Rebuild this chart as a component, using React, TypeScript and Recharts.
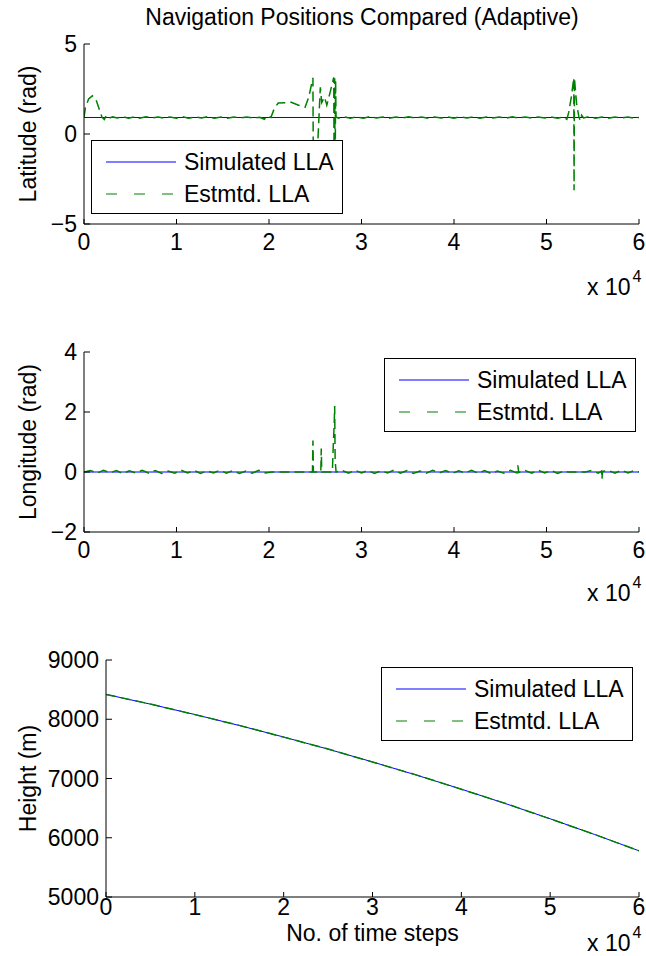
import React from 'react'
import { LineChart, Line, XAxis, YAxis } from 'recharts'

const FONT = '"Liberation Sans", Arial, Helvetica, sans-serif'
const BLUE = '#0000ff'
const GREEN = '#008000'

const xTicks = [0, 10000, 20000, 30000, 40000, 50000, 60000]
const latTicks = [-5, 0, 5]
const lonTicks = [-2, 0, 2, 4]
const heightTicks = [5000, 6000, 7000, 8000, 9000]

// [time step, value]
const latSim: [number, number][] = [[0, 0.917], [60000, 0.917]]
const latEst: [number, number][] = [
  [0, 0.92], [150, 1.45], [500, 1.95], [900, 2.12], [1300, 1.9], [1700, 1.3], [1950, 0.92],
  [2200, 0.8], [2400, 1.02], [2700, 0.88], [3100, 0.95], [3600, 0.89], [4200, 0.96], [4800, 0.88],
  [5400, 0.95], [6000, 0.88], [6700, 0.96], [7300, 0.89], [8000, 0.94], [8600, 0.88], [9300, 0.95],
  [10000, 0.88], [10600, 0.97], [11300, 0.88], [12000, 0.95], [12700, 0.89], [13400, 0.96],
  [14100, 0.88], [14800, 0.94], [15500, 0.88], [16200, 0.95], [16900, 0.89], [17600, 0.95],
  [18300, 0.88], [19000, 0.93], [19500, 0.82], [19800, 1.0], [20200, 0.92], [20600, 1.45],
  [21000, 1.72], [22400, 1.76], [23200, 1.6], [23900, 1.48], [24300, 2.05], [24750, 3.12],
  [24800, -3.1], [24950, -1.6], [25300, -0.2], [25550, 2.6], [25700, 1.75], [26000, 2.05],
  [26250, 1.6], [26600, 2.3], [27000, 3.14], [27050, -3.12], [27100, 3.1], [27150, -3.05],
  [27200, 3.0], [27250, 0.95], [27500, 0.88], [28100, 0.96], [28800, 0.88], [29500, 0.95],
  [30200, 0.88], [30900, 0.96], [31600, 0.89], [32300, 0.94], [33000, 0.88], [33700, 0.95],
  [34400, 0.89], [35100, 0.96], [35800, 0.88], [36500, 0.94], [37200, 0.88], [37900, 0.95],
  [38600, 0.89], [39300, 0.95], [40000, 0.88], [40700, 0.96], [41400, 0.89], [42100, 0.95],
  [42800, 0.87], [43500, 0.95], [44200, 0.89], [44900, 0.94], [45600, 0.88], [46300, 0.96],
  [47000, 0.88], [47700, 0.95], [48400, 0.88], [49100, 0.95], [49800, 0.89], [50500, 0.94],
  [51200, 0.88], [51800, 0.95], [52200, 0.82], [52400, 1.2], [52700, 2.1], [52950, 3.12],
  [52980, -3.12], [53020, 3.1], [53250, 1.7], [53500, 0.95], [53650, 0.74], [53800, 1.04],
  [54000, 0.89], [54600, 0.96], [55300, 0.88], [56000, 0.95], [56700, 0.88], [57400, 0.95],
  [58100, 0.89], [58800, 0.94], [59500, 0.88], [60000, 0.92],
]

const lonSim: [number, number][] = [[0, 0], [60000, 0]]
const lonEst: [number, number][] = [
  [0, 0], [700, 0.05], [1400, -0.04], [2100, 0.06], [2800, -0.03], [3500, 0.05], [4200, -0.05],
  [4900, 0.04], [5600, -0.03], [6300, 0.06], [7000, -0.04], [7700, 0.05], [8400, -0.05],
  [9100, 0.03], [9800, -0.04], [10500, 0.06], [11200, -0.03], [11900, 0.05], [12600, -0.05],
  [13300, 0.04], [14000, -0.03], [14700, 0.06], [15400, -0.04], [16100, 0.05], [16800, -0.05],
  [17500, 0.03], [18200, -0.04], [18900, 0.06], [19600, -0.03], [20300, 0], [24700, 0],
  [24750, 1.05], [24800, 0], [25600, 0], [25650, 0.78], [25700, 0], [26850, 0], [26950, 0.9],
  [27050, 1.6], [27100, 2.2], [27150, 0.4], [27250, 0], [27900, 0.05], [28600, -0.04],
  [29300, 0.06], [30000, -0.03], [30700, 0.05], [31400, -0.05], [32100, 0.04], [32800, -0.03],
  [33500, 0.06], [34200, -0.04], [34900, 0.05], [35600, -0.05], [36300, 0.03], [37000, -0.04],
  [37700, 0.06], [38400, -0.03], [39100, 0.05], [39800, -0.05], [40500, 0.04], [41200, -0.03],
  [41900, 0.06], [42600, -0.04], [43300, 0.05], [44000, -0.05], [44700, 0.03], [45400, -0.04],
  [46100, 0.06], [46800, -0.03], [46900, 0.22], [47000, -0.02], [47700, 0.05], [48400, -0.04],
  [49100, 0.06], [49800, -0.03], [50500, 0.05], [51200, -0.05], [51900, 0.04], [52300, 0],
  [54200, 0], [54900, 0.05], [55600, -0.04], [55950, 0.03], [56000, -0.24], [56050, 0.02],
  [56700, 0.05], [57400, -0.04], [58100, 0.06], [58800, -0.03], [59500, 0.05], [60000, 0],
]

const heightSim: [number, number][] = [
  [0, 8420], [5000, 8255], [10000, 8080], [15000, 7895], [20000, 7700], [25000, 7495],
  [30000, 7280], [35000, 7055], [40000, 6820], [45000, 6575], [50000, 6320], [55000, 6055],
  [60000, 5780],
]
const heightEst: [number, number][] = [
  [0, 8418], [5000, 8257], [10000, 8078], [15000, 7897], [20000, 7698], [25000, 7497],
  [30000, 7278], [35000, 7057], [40000, 6818], [45000, 6577], [50000, 6318], [55000, 6057],
  [60000, 5778],
]

const toRows = (pts: [number, number][]) => pts.map(([t, v]) => ({ t, v }))

const tickStyle = { fill: '#000', fontSize: 23, fontFamily: FONT }
const axisStroke = { stroke: '#000', strokeWidth: 1 }
const minus = (v: number) => String(v).replace('-', '\u2212')

const yLabel = (text: string) => (props: any) => {
  const vb = props.viewBox
  const cy = vb.y + vb.height / 2
  return (
    <text x={28} y={cy} transform={`rotate(-90 28 ${cy})`} textAnchor="middle"
      dominantBaseline="central" fontSize={23} fontFamily={FONT} fill="#000">{text}</text>
  )
}

const xLabel = (text: string, y: number) => (props: any) => {
  const vb = props.viewBox
  const cx = vb.x + vb.width / 2
  return (
    <text x={cx} y={y} textAnchor="middle" dominantBaseline="central"
      fontSize={23} fontFamily={FONT} fill="#000">{text}</text>
  )
}

interface PanelProps {
  top: number
  height: number
  plotTop: number
  plotBottom: number
  yWidth: number
  yDomain: [number, number]
  yTicks: number[]
  yTitle: string
  sim: [number, number][]
  est: [number, number][]
  xTickMargin: number
  xTitle?: string
  xTitleY?: number
}

function Panel(p: PanelProps) {
  const xAxisH = 30
  const mb = p.height - p.plotBottom - xAxisH
  return (
    <div style={{ position: 'absolute', left: 0, top: p.top }}>
      <LineChart width={646} height={p.height} margin={{ top: p.plotTop, right: 7, bottom: mb, left: 0 }}>
        <XAxis dataKey="t" type="number" domain={[0, 60000]} ticks={xTicks} allowDataOverflow interval={0}
          tickFormatter={(v: number) => String(v / 10000)} tick={tickStyle} tickSize={-5} tickMargin={p.xTickMargin}
          height={xAxisH} axisLine={axisStroke} tickLine={axisStroke}
          label={p.xTitle ? { content: xLabel(p.xTitle, p.xTitleY ?? 0) } : undefined} />
        <XAxis xAxisId="top" orientation="top" dataKey="t" type="number" domain={[0, 60000]} ticks={xTicks}
          allowDataOverflow interval={0} tick={false} tickSize={-5} height={0}
          axisLine={axisStroke} tickLine={axisStroke} />
        <YAxis type="number" domain={p.yDomain} ticks={p.yTicks} allowDataOverflow interval={0}
          tickFormatter={minus} tick={tickStyle} tickSize={-6} tickMargin={13} width={p.yWidth}
          axisLine={axisStroke} tickLine={axisStroke} label={{ content: yLabel(p.yTitle) }} />
        <YAxis yAxisId="right" orientation="right" type="number" domain={p.yDomain} ticks={p.yTicks}
          allowDataOverflow interval={0} tick={false} tickSize={-6} width={0}
          axisLine={axisStroke} tickLine={axisStroke} />
        <Line data={toRows(p.sim)} dataKey="v" type="linear" stroke={BLUE} strokeWidth={1}
          dot={false} activeDot={false} isAnimationActive={false} />
        <Line data={toRows(p.est)} dataKey="v" type="linear" stroke={GREEN} strokeWidth={1.5}
          strokeDasharray="10 5" dot={false} activeDot={false} isAnimationActive={false} />
      </LineChart>
    </div>
  )
}

function LegendBox({ left, top }: { left: number; top: number }) {
  const row = (y: number, color: string, dash: string | undefined, text: string) => (
    <>
      <svg style={{ position: 'absolute', left: 14, top: y - 3 }} width={72} height={6}>
        <line x1={0} y1={3} x2={70} y2={3} stroke={color} strokeWidth={1.2} strokeDasharray={dash} />
      </svg>
      <div style={{ position: 'absolute', left: 92, top: y - 14, lineHeight: '28px', whiteSpace: 'nowrap' }}>{text}</div>
    </>
  )
  return (
    <div style={{
      position: 'absolute', left, top, width: 252, height: 74, boxSizing: 'border-box',
      border: '1px solid #000', background: '#fff', fontFamily: FONT, fontSize: 23, color: '#000',
    }}>
      {row(21, BLUE, undefined, 'Simulated LLA')}
      {row(53, GREEN, '11 17', 'Estmtd. LLA')}
    </div>
  )
}

function Exponent({ top }: { top: number }) {
  return (
    <div style={{
      position: 'absolute', left: 587, top, height: 18, lineHeight: '18px',
      fontFamily: FONT, fontSize: 23, color: '#000', whiteSpace: 'nowrap',
    }}>
      x 10<span style={{ fontSize: 16, position: 'relative', top: -13, left: 2 }}>4</span>
    </div>
  )
}

export default function App() {
  return (
    <div style={{ position: 'absolute', left: 0, top: 0, width: 646, height: 956, background: '#fff', fontFamily: FONT, overflow: 'hidden' }}>
      <div style={{ position: 'absolute', left: 0, top: 4, width: 724, textAlign: 'center', fontSize: 23, color: '#000' }}>
        Navigation Positions Compared (Adaptive)
      </div>
      <Panel top={0} height={300} plotTop={44} plotBottom={224} yWidth={84} yDomain={[-5, 5]}
        yTicks={latTicks} yTitle="Latitude (rad)" sim={latSim} est={latEst} xTickMargin={15} />
      <Panel top={308} height={300} plotTop={44} plotBottom={224} yWidth={84} yDomain={[-2, 4]}
        yTicks={lonTicks} yTitle="Longitude (rad)" sim={lonSim} est={lonEst} xTickMargin={15} />
      <Panel top={616} height={340} plotTop={44} plotBottom={281} yWidth={106} yDomain={[5000, 9000]}
        yTicks={heightTicks} yTitle="Height (m)" sim={heightSim} est={heightEst} xTickMargin={7}
        xTitle="No. of time steps" xTitleY={317} />
      <LegendBox left={91} top={140} />
      <LegendBox left={384} top={358} />
      <LegendBox left={381} top={667} />
      <Exponent top={278} />
      <Exponent top={584} />
      <Exponent top={934} />
    </div>
  )
}
